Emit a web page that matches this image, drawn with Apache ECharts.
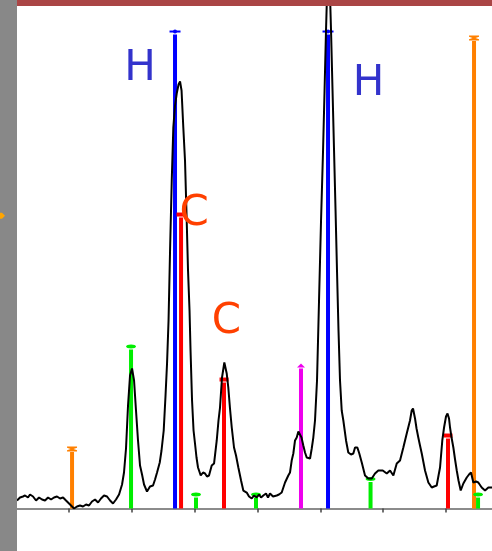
<!DOCTYPE html>
<html>
<head>
<meta charset="utf-8">
<script src="https://cdn.jsdelivr.net/npm/echarts@6/dist/echarts.min.js"></script>
<style>
  html, body { margin: 0; padding: 0; background: #ffffff; }
  #chart { width: 492px; height: 551px; }
</style>
</head>
<body>
<div id="chart"></div>
<script>
// Measured spectrum trace (position, intensity)
const specX = [
  0.172, 0.220, 0.268, 0.300, 0.347, 0.379, 0.427, 0.475, 0.523, 0.570,
  0.618, 0.666, 0.714, 0.761, 0.809, 0.857, 0.905, 0.952, 1.000, 1.048,
  1.080, 1.127, 1.175, 1.223, 1.271, 1.318, 1.366, 1.414, 1.462, 1.509,
  1.557, 1.605, 1.653, 1.700, 1.748, 1.796, 1.844, 1.875, 1.907, 1.939,
  1.971, 2.003, 2.035, 2.066, 2.098, 2.130, 2.162, 2.194, 2.241, 2.289,
  2.337, 2.369, 2.401, 2.444, 2.472, 2.507, 2.536, 2.560, 2.584, 2.608,
  2.635, 2.660, 2.687, 2.714, 2.743, 2.767, 2.791, 2.819, 2.846, 2.873,
  2.894, 2.918, 2.934, 2.958, 2.982, 3.005, 3.029, 3.053, 3.096, 3.133,
  3.165, 3.196, 3.228, 3.271, 3.308, 3.351, 3.379, 3.403, 3.435, 3.472,
  3.510, 3.535, 3.562, 3.590, 3.626, 3.658, 3.695, 3.738, 3.774, 3.828,
  3.865, 3.908, 3.944, 3.987, 4.024, 4.056, 4.092, 4.135, 4.167, 4.199,
  4.247, 4.306, 4.342, 4.385, 4.411, 4.438, 4.490, 4.517, 4.544, 4.570,
  4.597, 4.624, 4.650, 4.677, 4.700, 4.729, 4.756, 4.783, 4.812, 4.836,
  4.863, 4.888, 4.915, 4.947, 4.979, 5.011, 5.043, 5.067, 5.090, 5.106,
  5.130, 5.154, 5.170, 5.194, 5.218, 5.242, 5.265, 5.289, 5.313, 5.340,
  5.366, 5.409, 5.445, 5.488, 5.525, 5.552, 5.589, 5.620, 5.659, 5.711,
  5.764, 5.818, 5.870, 5.923, 5.993, 6.057, 6.109, 6.162, 6.216, 6.268,
  6.321, 6.375, 6.427, 6.454, 6.475, 6.507, 6.531, 6.559, 6.586, 6.614,
  6.666, 6.719, 6.773, 6.809, 6.852, 6.881, 6.905, 6.941, 6.969, 7.000,
  7.024, 7.048, 7.064, 7.088, 7.117, 7.144, 7.171, 7.199, 7.234, 7.276,
  7.330, 7.366, 7.398, 7.435, 7.478, 7.514, 7.568, 7.621, 7.674, 7.712,
  7.732
];
const specY = [
  1.68, 2.31, 2.52, 2.73, 2.31, 2.93, 2.52, 1.68, 2.31, 1.89,
  1.68, 2.31, 1.89, 2.31, 2.52, 2.10, 2.31, 1.68, 1.05, 0.42,
  0.00, 0.42, 0.63, 0.42, 0.84, 0.63, 1.47, 1.89, 1.26, 2.10,
  2.73, 2.52, 1.68, 1.05, 1.89, 2.93, 5.03, 7.55, 12.58, 21.59,
  27.88, 29.35, 26.83, 20.54, 14.26, 9.01, 7.13, 5.03, 3.56, 4.61,
  4.82, 6.08, 7.55, 9.64, 12.16, 16.35, 23.69, 30.40, 39.41, 54.09,
  68.76, 79.87, 84.48, 87.00, 88.89, 89.52, 87.63, 79.87, 72.95, 60.38,
  49.89, 41.51, 33.12, 22.64, 16.35, 13.63, 10.69, 8.60, 6.92, 7.55,
  7.34, 6.71, 6.92, 9.01, 9.43, 14.26, 18.45, 21.17, 27.46, 30.61,
  28.30, 25.37, 20.96, 16.98, 12.79, 11.11, 8.60, 5.87, 3.77, 3.35,
  2.52, 2.10, 2.73, 2.31, 2.93, 2.31, 2.73, 3.14, 2.31, 3.14,
  2.52, 2.73, 2.93, 3.35, 3.56, 5.45, 6.92, 7.55, 10.06, 11.53,
  14.26, 14.88, 16.14, 16.35, 14.88, 13.21, 11.74, 10.69, 10.69, 10.48,
  12.58, 14.88, 18.45, 26.83, 43.61, 60.38, 75.05, 87.63, 100.21, 107.55,
  110.69, 107.55, 100.21, 87.63, 75.05, 62.47, 49.89, 37.32, 26.83, 20.54,
  18.45, 14.26, 11.74, 11.32, 11.53, 12.79, 12.79, 11.53, 9.64, 6.92,
  6.29, 6.29, 7.34, 7.97, 7.97, 7.34, 7.97, 6.92, 9.43, 10.06,
  12.79, 15.72, 18.45, 20.54, 20.96, 18.87, 16.77, 14.88, 13.21, 11.53,
  7.97, 5.45, 4.40, 4.61, 4.82, 6.92, 8.60, 14.26, 16.98, 19.29,
  19.92, 18.87, 16.98, 14.88, 12.79, 10.27, 7.97, 5.87, 3.77, 5.24,
  6.50, 7.13, 7.55, 5.45, 5.66, 5.45, 4.40, 3.77, 4.40, 4.40,
  4.40
];

// Assigned lines: position, relative intensity, line group, atom label
const stickPos   = [1.048, 1.987, 2.687, 2.783, 3.021, 3.467, 3.976, 4.692, 5.122, 5.799, 7.032, 7.446, 7.510];
const stickInt   = [12.47, 33.96, 100.0, 61.63, 2.93, 27.04, 2.93, 29.98, 100.0, 6.18, 15.30, 98.64, 2.93];
const stickKind  = ['orange', 'green', 'blue', 'red', 'green', 'red', 'green', 'magenta', 'blue', 'green', 'red', 'orange', 'green'];
const stickLabel = ['', '', 'H', 'C', '', 'C', '', '', 'H', '', '', '', ''];

// Axis ticks and the level pointer on the left strip
const tickValues = [1, 2, 3, 4, 5, 6, 7];
const levelMarker = 61.4;

// Styling
const kindStyle = {
  orange:  { color: '#ff8000', cap: 'ibeam' },
  green:   { color: '#00ee00', cap: 'ellipse' },
  blue:    { color: '#0000ff', cap: 'flat' },
  red:     { color: '#ff0000', cap: 'rect' },
  magenta: { color: '#ee00ee', cap: 'tri' }
};
const labelColor = { H: '#3333cc', C: '#ff4000' };
const labelOffset = { 2: [-35, 38], 3: [13, 0], 5: [2.5, -57], 8: [40.5, 53] };

function capShape(kind, cx, cy) {
  const c = kindStyle[kind].color;
  switch (kindStyle[kind].cap) {
    case 'ibeam':
      return { type: 'polygon', shape: { points: [
        [cx - 5, cy - 2.5], [cx + 5, cy - 2.5], [cx + 5, cy - 1.2], [cx + 1.5, cy],
        [cx + 5, cy + 1.2], [cx + 5, cy + 2.5], [cx - 5, cy + 2.5], [cx - 5, cy + 1.2],
        [cx - 1.5, cy], [cx - 5, cy - 1.2]] }, style: { fill: c } };
    case 'ellipse':
      return { type: 'ellipse', shape: { cx: cx, cy: cy, rx: 5, ry: 2 }, style: { fill: c } };
    case 'flat':
      return { type: 'group', children: [
        { type: 'rect', shape: { x: cx - 5.5, y: cy - 1, width: 11, height: 2 }, style: { fill: c } },
        { type: 'circle', shape: { cx: cx, cy: cy, r: 2 }, style: { fill: c } }
      ] };
    case 'rect':
      return { type: 'rect', shape: { x: cx - 4.5, y: cy - 2, width: 9, height: 4 }, style: { fill: c } };
    default:
      return { type: 'polygon', shape: { points: [[cx - 4, cy + 2], [cx + 4, cy + 2], [cx, cy - 2]] }, style: { fill: c } };
  }
}

function renderStick(params, api) {
  const i = params.dataIndex;
  const top = api.coord([api.value(0), api.value(1)]);
  const base = api.coord([api.value(0), 0]);
  const kind = stickKind[i];
  const barTop = top[1] + 3;
  return {
    type: 'group',
    children: [
      { type: 'rect', shape: { x: top[0] - 2, y: barTop, width: 4, height: Math.max(0, base[1] - barTop) },
        style: { fill: kindStyle[kind].color } },
      capShape(kind, top[0], top[1])
    ]
  };
}

function renderLabel(params, api) {
  const i = params.dataIndex;
  const text = stickLabel[i];
  if (!text) return null;
  const p = api.coord([api.value(0), api.value(1)]);
  const off = labelOffset[i] || [0, 0];
  return {
    type: 'text',
    style: {
      x: p[0] + off[0], y: p[1] + off[1], text: text,
      fill: labelColor[text], font: '42px "DejaVu Sans", sans-serif',
      align: 'center', verticalAlign: 'middle'
    }
  };
}

const stickData = stickPos.map((x, i) => [x, stickInt[i]]);

const chart = echarts.init(document.getElementById('chart'), null, { renderer: 'canvas' });
chart.setOption({
  animation: false,
  backgroundColor: '#ffffff',
  grid: { left: 17, right: 0, top: 6, bottom: 42.5, containLabel: false },
  xAxis: {
    type: 'value', min: 0.172, max: 7.732,
    axisLine: { show: true, onZero: false, lineStyle: { color: '#666666', width: 1.5 } },
    axisTick: { show: true, customValues: tickValues, length: 4, lineStyle: { color: '#444444', width: 1.5 } },
    axisLabel: { show: false },
    splitLine: { show: false }
  },
  yAxis: { type: 'value', min: 0, max: 105.35, show: false },
  series: [
    { type: 'custom', name: 'lines', data: stickData, renderItem: renderStick, z: 1, silent: true, clip: false },
    { type: 'line', name: 'spectrum', data: specX.map((x, i) => [x, specY[i]]), symbol: 'none', showSymbol: false,
      lineStyle: { color: '#000000', width: 2 }, z: 2, silent: true, clip: true },
    { type: 'custom', name: 'labels', data: stickData, renderItem: renderLabel, z: 3, silent: true, clip: false }
  ]
});

// Side strip, top band and the orange pointer at the reference level
const py = chart.convertToPixel({ yAxisIndex: 0 }, levelMarker);
chart.setOption({
  graphic: [
    { type: 'rect', left: 0, top: 0, shape: { width: 17, height: 551 }, style: { fill: '#888888' }, z: 10 },
    { type: 'rect', left: 17, top: 0, shape: { width: 475, height: 6 }, style: { fill: '#aa4545' }, z: 10 },
    { type: 'polygon', shape: { points: [[0, py - 3], [2, py - 3], [5, py], [2, py + 3], [0, py + 3]] },
      style: { fill: '#ffa500' }, z: 11 }
  ]
});
</script>
</body>
</html>
